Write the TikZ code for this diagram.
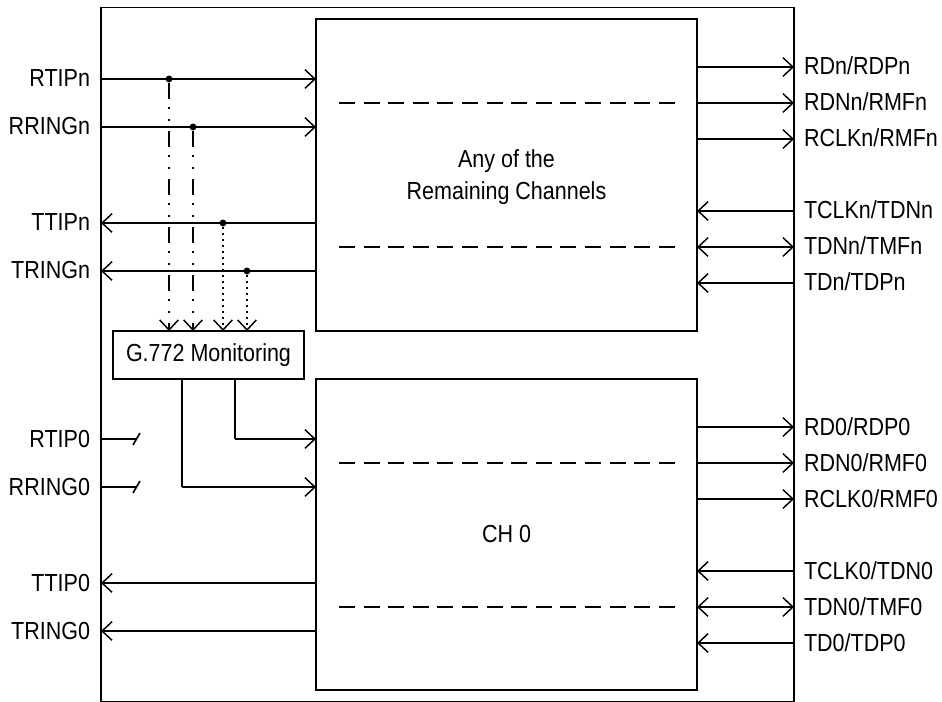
\documentclass[tikz,border=0pt]{standalone}
\usepackage{fontspec}
\setmainfont[FakeStretch=0.872]{Liberation Sans}
\usetikzlibrary{arrows.meta}

\tikzset{
  >={Straight Barb[length=7.5pt,width=14pt,line width=1.1pt]},
  every picture/.style={line width=1.2pt},
  box/.style={draw,rectangle,outer sep=0pt,inner sep=0pt},
  chip/.style={box,minimum width=285.75pt},
  chiptext/.style={inner sep=0pt,outer sep=0pt,align=center,font=\fontsize{18.5}{24}\selectfont},
  pin/.style={inner sep=0pt,outer sep=0pt,font=\fontsize{18.5}{22}\selectfont},
  junction/.style={circle,fill,inner sep=0pt,minimum size=5.2pt},
  chdash/.style={dash pattern=on 12pt off 6.45pt},
  tapline/.style={dash pattern=on 12pt off 6pt on 1.5pt off 7.5pt on 1.5pt off 7.5pt},
  dotline/.style={dash pattern=on 1.5pt off 3pt}
}

\begin{document}
\begin{tikzpicture}[x=.75pt,y=-.75pt]
      \useasboundingbox (0,0) rectangle (942,702);

      \node[box,minimum width=519.75pt,minimum height=520.5pt] (device) at (447.5,354.5) {};
      \node[chip,minimum height=234pt] (chn) at (506.5,175) {};
      \node[chip,minimum height=233.25pt] (ch0) at (506.5,534.5) {};
      \node[box,minimum width=143.25pt,minimum height=36pt,font=\fontsize{18.5}{22}\selectfont] (mon) at (208.5,355) {G.772 Monitoring};

      \node[chiptext] (tchn) at (506.5,177.5) {Any of the\\Remaining Channels};
      \node[chiptext] (tch0) at (506.5,534.5) {CH 0};

      % left labels
      \begin{scope}[every node/.style={pin,anchor=base east}]
        \node (lrtipn)  at (90,87)  {RTIPn};
        \node (lrringn) at (90,135) {RRINGn};
        \node (lttipn)  at (90,231) {TTIPn};
        \node (ltringn) at (90,279) {TRINGn};
        \node (lrtip0)  at (90,447) {RTIP0};
        \node (lrring0) at (90,495) {RRING0};
        \node (lttip0)  at (90,591) {TTIP0};
        \node (ltring0) at (90,639) {TRING0};
      \end{scope}

      % right labels
      \begin{scope}[every node/.style={pin,anchor=base west}]
        \node (lrdn)   at (804,75)  {RDn/RDPn};
        \node (lrdnn)  at (804,111) {RDNn/RMFn};
        \node (lrclkn) at (804,147) {RCLKn/RMFn};
        \node (ltclkn) at (804,219) {TCLKn/TDNn};
        \node (ltdnn)  at (804,255) {TDNn/TMFn};
        \node (ltdn)   at (804,291) {TDn/TDPn};
        \node (lrd0)   at (804,435) {RD0/RDP0};
        \node (lrdn0)  at (804,471) {RDN0/RMF0};
        \node (lrclk0) at (804,507) {RCLK0/RMF0};
        \node (ltclk0) at (804,579) {TCLK0/TDN0};
        \node (ltdn0)  at (804,615) {TDN0/TMF0};
        \node (ltd0)   at (804,651) {TD0/TDP0};
      \end{scope}

      % junctions on the line side
      \begin{scope}[every node/.style={junction}]
        \node (jrtipn)  at (169,79)  {};
        \node (jrringn) at (193,127) {};
        \node (jttipn)  at (223,223) {};
        \node (jtringn) at (247,271) {};
      \end{scope}

      % left pins
      \coordinate (a1) at (101,79);   \coordinate (b1) at (316,79);
      \coordinate (a2) at (101,127);  \coordinate (b2) at (316,127);
      \coordinate (a3) at (101,223);  \coordinate (b3) at (316,223);
      \coordinate (a4) at (101,271);  \coordinate (b4) at (316,271);
      \coordinate (a5) at (101,439);  \coordinate (t5a) at (133,445);
      \coordinate (t5m) at (136.5,439); \coordinate (t5b) at (140,433);
      \coordinate (a6) at (101,487);  \coordinate (t6a) at (133,493);
      \coordinate (t6m) at (136.5,487); \coordinate (t6b) at (140,481);
      \coordinate (a7) at (101,583);  \coordinate (b7) at (316,583);
      \coordinate (a8) at (101,631);  \coordinate (b8) at (316,631);

      % monitor taps
      \coordinate (m1) at (169,331);  \coordinate (m2) at (193,331);
      \coordinate (m3) at (223,331);  \coordinate (m4) at (247,331);
      \coordinate (m5) at (235,379);  \coordinate (c5) at (235,439);  \coordinate (b5) at (316,439);
      \coordinate (m6) at (182,379);  \coordinate (c6) at (182,487);  \coordinate (b6) at (316,487);

      % right pins
      \coordinate (p1) at (697,67);   \coordinate (q1) at (794,67);
      \coordinate (p2) at (697,103);  \coordinate (q2) at (794,103);
      \coordinate (p3) at (697,139);  \coordinate (q3) at (794,139);
      \coordinate (p4) at (697,211);  \coordinate (q4) at (794,211);
      \coordinate (p5) at (697,247);  \coordinate (q5) at (794,247);
      \coordinate (p6) at (697,283);  \coordinate (q6) at (794,283);
      \coordinate (p7) at (697,427);  \coordinate (q7) at (794,427);
      \coordinate (p8) at (697,463);  \coordinate (q8) at (794,463);
      \coordinate (p9) at (697,499);  \coordinate (q9) at (794,499);
      \coordinate (p10) at (697,571); \coordinate (q10) at (794,571);
      \coordinate (p11) at (697,607); \coordinate (q11) at (794,607);
      \coordinate (p12) at (697,643); \coordinate (q12) at (794,643);

      % channel dividers
      \coordinate (d1) at (339,103);  \coordinate (e1) at (675,103);
      \coordinate (d2) at (339,247);  \coordinate (e2) at (675,247);
      \coordinate (d3) at (339,463);  \coordinate (e3) at (675,463);
      \coordinate (d4) at (339,607);  \coordinate (e4) at (675,607);

      \begin{scope}[every edge/.style={draw}]
        \path (a1) edge[->] (b1);
        \path (a2) edge[->] (b2);
        \path (b3) edge[->] (a3);
        \path (b4) edge[->] (a4);
        \path (a5) edge (t5m);
        \path (t5a) edge (t5b);
        \path (a6) edge (t6m);
        \path (t6a) edge (t6b);
        \path (b7) edge[->] (a7);
        \path (b8) edge[->] (a8);

        \path (jrtipn)  edge[->,tapline] (m1);
        \path (jrringn) edge[->,tapline] (m2);
        \path (jttipn)  edge[->,dotline] (m3);
        \path (jtringn) edge[->,dotline] (m4);

        \path (m5) edge (c5);
        \path (c5) edge[->] (b5);
        \path (m6) edge (c6);
        \path (c6) edge[->] (b6);

        \path (p1) edge[->] (q1);
        \path (p2) edge[->] (q2);
        \path (p3) edge[->] (q3);
        \path (q4) edge[->] (p4);
        \path (p5) edge[<->] (q5);
        \path (q6) edge[->] (p6);
        \path (p7) edge[->] (q7);
        \path (p8) edge[->] (q8);
        \path (p9) edge[->] (q9);
        \path (q10) edge[->] (p10);
        \path (p11) edge[<->] (q11);
        \path (q12) edge[->] (p12);

        \path (d1) edge[chdash] (e1);
        \path (d2) edge[chdash] (e2);
        \path (d3) edge[chdash] (e3);
        \path (d4) edge[chdash] (e4);
      \end{scope}

    \end{tikzpicture}
\end{document}
